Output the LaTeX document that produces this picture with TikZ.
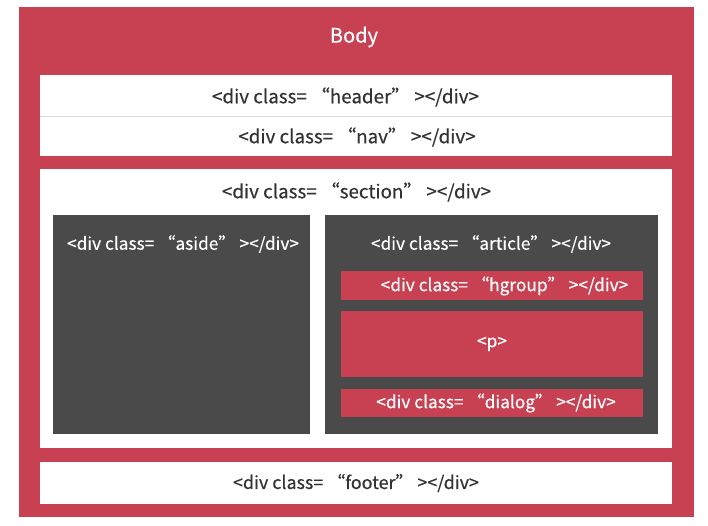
\documentclass[tikz,border=0pt]{standalone}
\usepackage{fontspec}
\setmainfont{Noto Sans CJK SC}
\newfontfamily\labelfont{Noto Sans CJK SC}[FakeBold=0.35]
\usetikzlibrary{positioning}

\definecolor{bodyred}{HTML}{C84152}
\definecolor{darkbox}{HTML}{4A4A4A}
\definecolor{lineg}{HTML}{DCDCDC}

\begin{document}
\begin{tikzpicture}[x=1pt, y=-1pt,
box/.style={rectangle, inner sep=0pt, outer sep=0pt},
red box/.style={box, fill=bodyred},
white box/.style={box, fill=white},
dark box/.style={box, fill=darkbox},
dark text/.style={text=black!80, font=\labelfont\fontsize{18.8}{22}\selectfont},
light text/.style={text=white, font=\labelfont\fontsize{17.3}{20}\selectfont}]

\useasboundingbox (0,0) rectangle (708,525);

\node[red box, minimum width=675, minimum height=510] (body) at (356.5,262) {};
\node[light text, font=\labelfont\fontsize{20}{23}\selectfont] (bodylabel) at (354,37) {Body};

\node[white box, minimum width=632, minimum height=41] (header) at (356,95.5) {};
\node[white box, minimum width=632, minimum height=40] (nav) at (356,136) {};
\draw[lineg] (header.south west) -- (header.south east);
\node[dark text] (headerlabel) at (345.5,97) {<div class= “header” ></div>};
\node[dark text] (navlabel) at (357,137) {<div class= “nav” ></div>};

\node[white box, minimum width=632, minimum height=279] (section) at (356,308.5) {};
\node[dark text] (sectionlabel) at (356.5,192) {<div class= “section” ></div>};

\node[dark box, minimum width=257, minimum height=219] (aside) at (181.5,324.5) {};
\node[light text, anchor=west] (asidelabel) at (63.5,244) {<div class= “aside” ></div>};

\node[dark box, minimum width=333, minimum height=219] (article) at (491.5,324.5) {};
\node[light text] (articlelabel) at (491,244) {<div class= “article” ></div>};

\node[red box, minimum width=302, minimum height=29] (hgroup) at (492,285.5) {};
\node[light text] (hgrouplabel) at (504.5,286) {<div class= “hgroup” ></div>};
\node[red box, minimum width=302, minimum height=66, light text] (p) at (492,344) {<p>};
\node[red box, minimum width=302, minimum height=28] (dialog) at (492,403) {};
\node[light text] (dialoglabel) at (496,403) {<div class= “dialog” ></div>};

\node[white box, minimum width=632, minimum height=42, dark text, font=\labelfont\fontsize{17.9}{21}\selectfont] (footer) at (356,483) {<div class= “footer” ></div>};
\end{tikzpicture}
\end{document}
